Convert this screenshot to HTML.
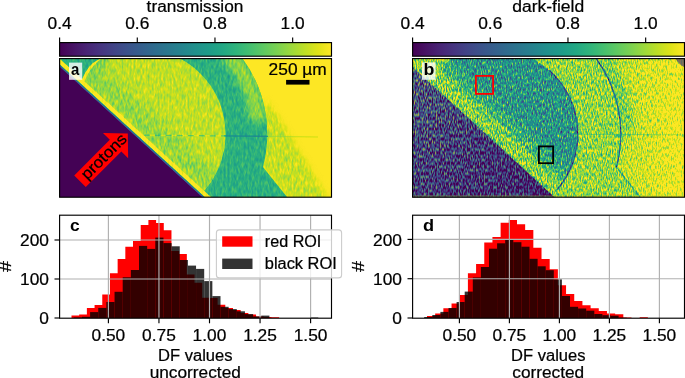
<!DOCTYPE html><html><head><meta charset="utf-8"><style>html,body{margin:0;padding:0;background:#fff;width:685px;height:378px;overflow:hidden}svg{display:block;will-change:transform}text{font-family:"Liberation Sans",sans-serif}</style></head><body>
<svg width="685" height="378" viewBox="0 0 685 378">
<defs>
<linearGradient id="vir" x1="0" x2="1" y1="0" y2="0"><stop offset="0.000" stop-color="#440154"/><stop offset="0.050" stop-color="#471365"/><stop offset="0.100" stop-color="#482475"/><stop offset="0.150" stop-color="#463480"/><stop offset="0.200" stop-color="#414487"/><stop offset="0.250" stop-color="#3b528b"/><stop offset="0.300" stop-color="#355f8d"/><stop offset="0.350" stop-color="#2f6c8e"/><stop offset="0.400" stop-color="#2a788e"/><stop offset="0.450" stop-color="#25848e"/><stop offset="0.500" stop-color="#21918c"/><stop offset="0.550" stop-color="#1e9c89"/><stop offset="0.600" stop-color="#22a884"/><stop offset="0.650" stop-color="#2fb47c"/><stop offset="0.700" stop-color="#44bf70"/><stop offset="0.750" stop-color="#5ec962"/><stop offset="0.800" stop-color="#7ad151"/><stop offset="0.850" stop-color="#9bd93c"/><stop offset="0.900" stop-color="#bddf26"/><stop offset="0.950" stop-color="#dfe318"/><stop offset="1.000" stop-color="#fde725"/></linearGradient>
<clipPath id="clipim0"><rect x="59.6" y="58.6" width="271.9" height="138.6"/></clipPath>
<clipPath id="cliph0"><rect x="59.6" y="215.2" width="271.9" height="103.0"/></clipPath>
<clipPath id="clipim1"><rect x="412.6" y="58.6" width="271.9" height="138.6"/></clipPath>
<clipPath id="cliph1"><rect x="412.6" y="215.2" width="271.9" height="103.0"/></clipPath>
<filter id="b0_6" x="-50%" y="-50%" width="200%" height="200%" color-interpolation-filters="sRGB"><feGaussianBlur stdDeviation="0.6"/></filter>
<filter id="b1" x="-50%" y="-50%" width="200%" height="200%" color-interpolation-filters="sRGB"><feGaussianBlur stdDeviation="1"/></filter>
<filter id="b1_5" x="-50%" y="-50%" width="200%" height="200%" color-interpolation-filters="sRGB"><feGaussianBlur stdDeviation="1.5"/></filter>
<filter id="b2" x="-50%" y="-50%" width="200%" height="200%" color-interpolation-filters="sRGB"><feGaussianBlur stdDeviation="2"/></filter>
<filter id="b3" x="-50%" y="-50%" width="200%" height="200%" color-interpolation-filters="sRGB"><feGaussianBlur stdDeviation="3"/></filter>
<filter id="b4" x="-50%" y="-50%" width="200%" height="200%" color-interpolation-filters="sRGB"><feGaussianBlur stdDeviation="4"/></filter>
<filter id="b6" x="-50%" y="-50%" width="200%" height="200%" color-interpolation-filters="sRGB"><feGaussianBlur stdDeviation="6"/></filter>
<filter id="b8" x="-50%" y="-50%" width="200%" height="200%" color-interpolation-filters="sRGB"><feGaussianBlur stdDeviation="8"/></filter>
<filter id="va" x="59.6" y="58.6" width="271.9" height="138.6" filterUnits="userSpaceOnUse" color-interpolation-filters="sRGB"><feTurbulence type="fractalNoise" baseFrequency="0.5 0.16" numOctaves="2" seed="5" result="n0"/><feColorMatrix in="n0" type="matrix" values="1 0 0 0 0  1 0 0 0 0  1 0 0 0 0  0 0 0 0 1" result="n"/><feColorMatrix in="SourceGraphic" type="matrix" values="0 1 0 0 0  0 1 0 0 0  0 1 0 0 0  0 0 0 0 1" result="amp"/><feColorMatrix in="SourceGraphic" type="matrix" values="1 0 0 0 0  1 0 0 0 0  1 0 0 0 0  0 0 0 0 1" result="val"/><feComposite in="amp" in2="n" operator="arithmetic" k1="1" k2="0" k3="0" k4="0" result="an"/><feComposite in="an" in2="amp" operator="arithmetic" k1="0" k2="0.75" k3="-0.375" k4="0.5" result="q"/><feComposite in="val" in2="q" operator="arithmetic" k1="0" k2="1" k3="1" k4="-0.5" result="v"/><feComponentTransfer in="v"><feFuncR type="table" tableValues="0.2670 0.2770 0.2823 0.2829 0.2788 0.2706 0.2590 0.2450 0.2297 0.2143 0.1994 0.1856 0.1727 0.1607 0.1490 0.1378 0.1276 0.1206 0.1206 0.1323 0.1579 0.1966 0.2461 0.3041 0.3692 0.4401 0.5160 0.5958 0.6785 0.7624 0.8456 0.9261 0.9932"/><feFuncG type="table" tableValues="0.0049 0.0503 0.0950 0.1359 0.1755 0.2141 0.2515 0.2877 0.3224 0.3556 0.3876 0.4186 0.4488 0.4785 0.5081 0.5375 0.5669 0.5964 0.6258 0.6550 0.6838 0.7118 0.7389 0.7647 0.7889 0.8111 0.8312 0.8487 0.8637 0.8764 0.8873 0.8973 0.9062"/><feFuncB type="table" tableValues="0.3294 0.3757 0.4173 0.4534 0.4834 0.5071 0.5247 0.5373 0.5457 0.5512 0.5546 0.5568 0.5579 0.5581 0.5573 0.5549 0.5506 0.5436 0.5335 0.5197 0.5017 0.4792 0.4520 0.4199 0.3829 0.3410 0.2943 0.2433 0.1895 0.1371 0.0997 0.1041 0.1439"/><feFuncA type="linear" slope="0" intercept="1"/></feComponentTransfer><feComposite in2="SourceGraphic" operator="in"/></filter>
<filter id="vb" x="412.6" y="58.6" width="271.9" height="138.6" filterUnits="userSpaceOnUse" color-interpolation-filters="sRGB"><feTurbulence type="fractalNoise" baseFrequency="0.8 0.26" numOctaves="2" seed="7" result="n0"/><feColorMatrix in="n0" type="matrix" values="1 0 0 0 0  1 0 0 0 0  1 0 0 0 0  0 0 0 0 1" result="n"/><feColorMatrix in="SourceGraphic" type="matrix" values="0 1 0 0 0  0 1 0 0 0  0 1 0 0 0  0 0 0 0 1" result="amp"/><feColorMatrix in="SourceGraphic" type="matrix" values="1 0 0 0 0  1 0 0 0 0  1 0 0 0 0  0 0 0 0 1" result="val"/><feComposite in="amp" in2="n" operator="arithmetic" k1="1" k2="0" k3="0" k4="0" result="an"/><feComposite in="an" in2="amp" operator="arithmetic" k1="0" k2="3.3" k3="-1.65" k4="0.5" result="q"/><feComposite in="val" in2="q" operator="arithmetic" k1="0" k2="1" k3="1" k4="-0.5" result="v"/><feComponentTransfer in="v"><feFuncR type="table" tableValues="0.2670 0.2770 0.2823 0.2829 0.2788 0.2706 0.2590 0.2450 0.2297 0.2143 0.1994 0.1856 0.1727 0.1607 0.1490 0.1378 0.1276 0.1206 0.1206 0.1323 0.1579 0.1966 0.2461 0.3041 0.3692 0.4401 0.5160 0.5958 0.6785 0.7624 0.8456 0.9261 0.9932"/><feFuncG type="table" tableValues="0.0049 0.0503 0.0950 0.1359 0.1755 0.2141 0.2515 0.2877 0.3224 0.3556 0.3876 0.4186 0.4488 0.4785 0.5081 0.5375 0.5669 0.5964 0.6258 0.6550 0.6838 0.7118 0.7389 0.7647 0.7889 0.8111 0.8312 0.8487 0.8637 0.8764 0.8873 0.8973 0.9062"/><feFuncB type="table" tableValues="0.3294 0.3757 0.4173 0.4534 0.4834 0.5071 0.5247 0.5373 0.5457 0.5512 0.5546 0.5568 0.5579 0.5581 0.5573 0.5549 0.5506 0.5436 0.5335 0.5197 0.5017 0.4792 0.4520 0.4199 0.3829 0.3410 0.2943 0.2433 0.1895 0.1371 0.0997 0.1041 0.1439"/><feFuncA type="linear" slope="0" intercept="1"/></feComponentTransfer><feComposite in2="SourceGraphic" operator="in"/></filter>
<filter id="vs" x="412.6" y="58.6" width="271.9" height="138.6" filterUnits="userSpaceOnUse" color-interpolation-filters="sRGB"><feTurbulence type="fractalNoise" baseFrequency="0.77 0.29" numOctaves="1" seed="11" result="n0"/><feColorMatrix in="n0" type="matrix" values="1 0 0 0 0  1 0 0 0 0  1 0 0 0 0  0 0 0 0 1" result="n"/><feColorMatrix in="SourceGraphic" type="matrix" values="0 1 0 0 0  0 1 0 0 0  0 1 0 0 0  0 0 0 0 1" result="amp"/><feColorMatrix in="SourceGraphic" type="matrix" values="1 0 0 0 0  1 0 0 0 0  1 0 0 0 0  0 0 0 0 1" result="val"/><feComposite in="amp" in2="n" operator="arithmetic" k1="1" k2="0" k3="0" k4="0" result="an"/><feComposite in="an" in2="amp" operator="arithmetic" k1="0" k2="3.3" k3="-1.65" k4="0.5" result="q"/><feComposite in="val" in2="q" operator="arithmetic" k1="0" k2="1" k3="1" k4="-0.5" result="v"/><feComponentTransfer in="v"><feFuncR type="table" tableValues="0.267 0.275 0.263 0.243 0.239 0.290 0.431 0.620 0.784"/><feFuncG type="table" tableValues="0.004 0.090 0.180 0.290 0.392 0.494 0.557 0.627 0.753"/><feFuncB type="table" tableValues="0.329 0.416 0.478 0.525 0.533 0.510 0.400 0.290 0.235"/><feFuncA type="linear" slope="0" intercept="1"/></feComponentTransfer><feComposite in2="SourceGraphic" operator="in"/></filter>
</defs>
<text x="195.00" y="11.60" font-size="15.8" font-weight="normal" text-anchor="middle" fill="#000" stroke="#000" stroke-width="0.22" textLength="96.79" lengthAdjust="spacingAndGlyphs" >transmission</text>
<text x="548.20" y="11.60" font-size="15.8" font-weight="normal" text-anchor="middle" fill="#000" stroke="#000" stroke-width="0.22" textLength="72.06" lengthAdjust="spacingAndGlyphs" >dark-field</text>
<rect x="59.6" y="42.6" width="271.9" height="13.600000000000001" fill="url(#vir)" stroke="#000" stroke-width="1.15"/>
<line x1="59.60" x2="59.60" y1="37.50" y2="42.6" stroke="#000" stroke-width="1.15"/>
<text x="59.60" y="28.90" font-size="15.8" font-weight="normal" text-anchor="middle" fill="#000" stroke="#000" stroke-width="0.22" textLength="24.10" lengthAdjust="spacingAndGlyphs" >0.4</text>
<line x1="137.29" x2="137.29" y1="37.50" y2="42.6" stroke="#000" stroke-width="1.15"/>
<text x="137.29" y="28.90" font-size="15.8" font-weight="normal" text-anchor="middle" fill="#000" stroke="#000" stroke-width="0.22" textLength="24.10" lengthAdjust="spacingAndGlyphs" >0.6</text>
<line x1="214.97" x2="214.97" y1="37.50" y2="42.6" stroke="#000" stroke-width="1.15"/>
<text x="214.97" y="28.90" font-size="15.8" font-weight="normal" text-anchor="middle" fill="#000" stroke="#000" stroke-width="0.22" textLength="24.10" lengthAdjust="spacingAndGlyphs" >0.8</text>
<line x1="292.66" x2="292.66" y1="37.50" y2="42.6" stroke="#000" stroke-width="1.15"/>
<text x="292.66" y="28.90" font-size="15.8" font-weight="normal" text-anchor="middle" fill="#000" stroke="#000" stroke-width="0.22" textLength="24.10" lengthAdjust="spacingAndGlyphs" >1.0</text>
<rect x="412.6" y="42.6" width="271.9" height="13.600000000000001" fill="url(#vir)" stroke="#000" stroke-width="1.15"/>
<line x1="412.60" x2="412.60" y1="37.50" y2="42.6" stroke="#000" stroke-width="1.15"/>
<text x="412.60" y="28.90" font-size="15.8" font-weight="normal" text-anchor="middle" fill="#000" stroke="#000" stroke-width="0.22" textLength="24.10" lengthAdjust="spacingAndGlyphs" >0.4</text>
<line x1="490.29" x2="490.29" y1="37.50" y2="42.6" stroke="#000" stroke-width="1.15"/>
<text x="490.29" y="28.90" font-size="15.8" font-weight="normal" text-anchor="middle" fill="#000" stroke="#000" stroke-width="0.22" textLength="24.10" lengthAdjust="spacingAndGlyphs" >0.6</text>
<line x1="567.97" x2="567.97" y1="37.50" y2="42.6" stroke="#000" stroke-width="1.15"/>
<text x="567.97" y="28.90" font-size="15.8" font-weight="normal" text-anchor="middle" fill="#000" stroke="#000" stroke-width="0.22" textLength="24.10" lengthAdjust="spacingAndGlyphs" >0.8</text>
<line x1="645.66" x2="645.66" y1="37.50" y2="42.6" stroke="#000" stroke-width="1.15"/>
<text x="645.66" y="28.90" font-size="15.8" font-weight="normal" text-anchor="middle" fill="#000" stroke="#000" stroke-width="0.22" textLength="24.10" lengthAdjust="spacingAndGlyphs" >1.0</text>
<defs><clipPath id="cuta"><path d="M140.5,33.0 L98.5,58.6 Q88.0,65.0 81.5,80.5 L49.0,158.0 L49.0,400 L400,400 L400,-27.0 L140.5,-27.0 Z"/></clipPath><clipPath id="cutb"><path d="M493.5,33.0 L451.5,58.6 Q441.0,65.0 434.5,80.5 L402.0,158.0 L402.0,400 L753,400 L753,-27.0 L493.5,-27.0 Z"/></clipPath></defs>
<defs><clipPath id="discA"><circle cx="140.3" cy="134.0" r="85.3" clip-path="url(#cuta)"/></clipPath></defs>
<defs><clipPath id="outerA"><path d="M50,50 L241.30,50 L241.30,57 A127.0,127.0 0 0 1 262.94,167.0 L289.40,200 L50,200 Z"/></clipPath></defs>
<g clip-path="url(#clipim0)"><g filter="url(#va)">
<rect x="55" y="55" width="280" height="146" fill="rgb(255,0,0)"/>
<path d="M266,100 L281,122 L328,199 L288,199 L262,165 Z" fill="rgb(232,102,0)" filter="url(#b3)"/>
<path d="M50,50 L241.30,50 L241.30,57 A127.0,127.0 0 0 1 262.94,167.0 L289.40,200 L50,200 Z" fill="rgb(161,107,0)"/>
<g clip-path="url(#outerA)"><path d="M224.6,50 A119.0,119.0 0 0 1 258.7,122" fill="none" stroke="rgb(214,102,0)" stroke-width="16" filter="url(#b4)"/><path d="M173.4,50 A90.3,90.3 0 0 1 201.9,200" fill="none" stroke="rgb(164,102,0)" stroke-width="8" filter="url(#b3)"/></g>
<g clip-path="url(#cuta)"><circle cx="140.3" cy="134.0" r="85.3" fill="rgb(230,97,0)"/></g>
<g clip-path="url(#discA)"><path d="M60.80,45.72 L225.80,196.61" stroke="rgb(212,128,0)" stroke-width="22" filter="url(#b6)"/><path d="M106,50 L86,80" stroke="rgb(204,128,0)" stroke-width="16" filter="url(#b4)"/><path d="M99.5,57.5 Q89,64.5 82.3,80.8" fill="none" stroke="rgb(252,76,0)" stroke-width="4.5" filter="url(#b0_6)"/></g>
<path d="M145.6,60 L145.3,104" stroke="rgb(255,0,0)" stroke-width="1" opacity="0.35"/>
<path d="M133,135.1 L224,135.9" stroke="rgb(158,0,0)" stroke-width="1.3" stroke-dasharray="6 5" opacity="0.55"/>
<path d="M138.5,135.1 L224,135.9" stroke="rgb(255,0,0)" stroke-width="1.3" stroke-dasharray="5 6" opacity="0.6"/>
<path d="M224,135.9 L268,136.4" stroke="rgb(97,0,0)" stroke-width="1.3" opacity="0.6"/>
<path d="M268,136.4 L318,137.0" stroke="rgb(204,0,0)" stroke-width="1.1" opacity="0.45"/>
<path d="M52.29,55.02 L217.29,205.91" stroke="rgb(255,51,0)" stroke-width="4.6" filter="url(#b0_6)"/>
<path d="M50.47,57.01 L215.47,207.91" stroke="rgb(84,0,0)" stroke-width="1.4" filter="url(#b0_6)"/>
<path d="M50,57.53 L215,208.42 L215,205 L50,205 Z" fill="rgb(0,0,0)" filter="url(#b0_6)"/>
</g></g>
<rect x="59.6" y="58.6" width="271.9" height="138.6" fill="none" stroke="#000" stroke-width="1.15"/>
<rect x="69" y="62.6" width="13.2" height="17.2" fill="#fff" opacity="0.8"/>
<text x="75.25" y="75.00" font-size="16" font-weight="bold" text-anchor="middle" fill="#000" textLength="8.30" lengthAdjust="spacingAndGlyphs" >a</text>
<text x="297.70" y="74.60" font-size="15.8" font-weight="normal" text-anchor="middle" fill="#000" stroke="#000" stroke-width="0.22" textLength="58.13" lengthAdjust="spacingAndGlyphs" >250 µm</text>
<rect x="286.1" y="79.9" width="23.4" height="4.7" fill="#000"/>
<polygon points="74.24,175.44 109.80,139.87 102.98,133.05 127.80,133.40 128.15,158.22 121.33,151.40 85.76,186.96" fill="#ff0000"/>
<g transform="translate(104.25,156.95) rotate(-45)">
<text x="0.00" y="4.60" font-size="15.8" font-weight="normal" text-anchor="middle" fill="#000" stroke="#000" stroke-width="0.22" textLength="57.49" lengthAdjust="spacingAndGlyphs" >protons</text>
</g>
<defs><linearGradient id="bgb" x1="560" y1="0" x2="685" y2="0" gradientUnits="userSpaceOnUse"><stop offset="0" stop-color="rgb(219,66,0)"/><stop offset="0.55" stop-color="rgb(232,61,0)"/><stop offset="1" stop-color="rgb(255,51,0)"/></linearGradient><linearGradient id="spk" x1="425" y1="85" x2="535" y2="200" gradientUnits="userSpaceOnUse"><stop offset="0" stop-color="rgb(112,168,0)"/><stop offset="0.5" stop-color="rgb(74,168,0)"/><stop offset="1" stop-color="rgb(46,168,0)"/></linearGradient><clipPath id="discB"><circle cx="492.8" cy="134.0" r="85.0" clip-path="url(#cutb)"/></clipPath></defs>
<g clip-path="url(#clipim1)"><g filter="url(#vb)">
<rect x="405" y="55" width="285" height="146" fill="url(#bgb)"/>
<path d="M596.8,50 A133.3,133.3 0 0 1 626.6,135" fill="none" stroke="rgb(194,76,0)" stroke-width="12" filter="url(#b4)"/>
<path d="M403,50 L595.05,50 L595.05,57 A128.0,128.0 0 0 1 616.47,167.0 L642.40,200 L403,200 Z" fill="rgb(212,71,0)"/>
<g clip-path="url(#cutb)"><circle cx="492.8" cy="134.0" r="85.0" fill="rgb(133,92,0)"/></g>
<g clip-path="url(#discB)"><path d="M399.76,41.60 L579.76,206.84" stroke="rgb(204,92,0)" stroke-width="20" filter="url(#b3)"/><path d="M409.23,31.28 L589.23,196.52" stroke="rgb(168,92,0)" stroke-width="10" filter="url(#b4)"/></g>
<path d="M548.74,70 A85.0,85.0 0 0 1 556.75,190" fill="none" stroke="rgb(46,76,0)" stroke-width="1.2"/>
<path d="M594.29,56 A128.0,128.0 0 0 1 616.47,167.0" fill="none" stroke="rgb(51,76,0)" stroke-width="1.1"/>
<path d="M616.47,167.0 L642.40,200" fill="none" stroke="rgb(115,76,0)" stroke-width="1.2" opacity="0.7"/>
<path d="M470,133.5 L685,135" stroke="rgb(153,26,0)" stroke-width="1" opacity="0.5"/>
<path d="M395.37,46.38 L575.37,211.62" stroke="rgb(209,102,0)" stroke-width="6" filter="url(#b1_5)"/>
</g>
<g filter="url(#vs)">
<path d="M403,58.14 L568,209.61 L568,205 L403,205 Z" fill="url(#spk)"/>
</g>
<path d="M675,58 L686,58 L686,68 Q680,66 675,58 Z" fill="#4a3f70" opacity="0.7"/>
<path d="M412,196.2 L686,196.2" stroke="#a8d838" stroke-width="1.3" opacity="0.45"/>
</g>
<rect x="412.6" y="58.6" width="271.9" height="138.6" fill="none" stroke="#000" stroke-width="1.15"/>
<rect x="422" y="62.4" width="13.6" height="17.4" fill="#fff" opacity="0.8"/>
<text x="428.95" y="75.40" font-size="16" font-weight="bold" text-anchor="middle" fill="#000" textLength="10.90" lengthAdjust="spacingAndGlyphs" >b</text>
<rect x="475.9" y="75.9" width="17.2" height="18" fill="none" stroke="#ff0000" stroke-width="1.8"/>
<rect x="538.9" y="146.4" width="14.2" height="16.8" fill="none" stroke="#000" stroke-width="1.8"/>
<g clip-path="url(#cliph0)">
<path d="M71.50,318.2V315.60H79.19V318.2ZM79.19,318.2V314.40H86.88V318.2ZM86.88,318.2V307.90H94.57V318.2ZM94.57,318.2V304.90H102.26V318.2ZM102.26,318.2V294.50H109.95V318.2ZM109.95,318.2V273.30H117.64V318.2ZM117.64,318.2V259.10H125.33V318.2ZM125.33,318.2V246.70H133.02V318.2ZM133.02,318.2V241.10H140.71V318.2ZM140.71,318.2V225.00H148.40V318.2ZM148.40,318.2V220.00H156.09V318.2ZM156.09,318.2V223.00H163.78V318.2ZM163.78,318.2V230.20H171.47V318.2ZM171.47,318.2V251.00H179.16V318.2ZM179.16,318.2V254.10H186.85V318.2ZM186.85,318.2V274.40H194.54V318.2ZM194.54,318.2V282.80H202.23V318.2ZM202.23,318.2V297.80H209.92V318.2ZM209.92,318.2V298.10H217.61V318.2ZM217.61,318.2V304.70H225.30V318.2ZM225.30,318.2V308.00H232.99V318.2ZM232.99,318.2V310.00H240.68V318.2ZM240.68,318.2V313.00H248.37V318.2ZM248.37,318.2V314.40H256.06V318.2ZM256.06,318.2V316.50H263.75V318.2ZM263.75,318.2V317.00H271.44V318.2ZM271.44,318.2V317.30H279.13V318.2Z" fill="#ff0000" fill-opacity="1"/>
<rect x="73.80" y="317.50" width="8.15" height="0.70" fill="#000000" fill-opacity="0.8"/>
<rect x="81.95" y="316.80" width="8.15" height="1.40" fill="#000000" fill-opacity="0.8"/>
<rect x="90.10" y="312.10" width="8.15" height="6.10" fill="#000000" fill-opacity="0.8"/>
<rect x="98.25" y="307.90" width="8.15" height="10.30" fill="#000000" fill-opacity="0.8"/>
<rect x="106.40" y="302.00" width="8.15" height="16.20" fill="#000000" fill-opacity="0.8"/>
<rect x="114.55" y="291.80" width="8.15" height="26.40" fill="#000000" fill-opacity="0.8"/>
<rect x="122.70" y="277.30" width="8.15" height="40.90" fill="#000000" fill-opacity="0.8"/>
<rect x="130.85" y="270.00" width="8.15" height="48.20" fill="#000000" fill-opacity="0.8"/>
<rect x="139.00" y="245.90" width="8.15" height="72.30" fill="#000000" fill-opacity="0.8"/>
<rect x="147.15" y="248.90" width="8.15" height="69.30" fill="#000000" fill-opacity="0.8"/>
<rect x="155.30" y="237.60" width="8.15" height="80.60" fill="#000000" fill-opacity="0.8"/>
<rect x="163.45" y="243.10" width="8.15" height="75.10" fill="#000000" fill-opacity="0.8"/>
<rect x="171.60" y="246.30" width="8.15" height="71.90" fill="#000000" fill-opacity="0.8"/>
<rect x="179.75" y="260.00" width="8.15" height="58.20" fill="#000000" fill-opacity="0.8"/>
<rect x="187.90" y="265.60" width="8.15" height="52.60" fill="#000000" fill-opacity="0.8"/>
<rect x="196.05" y="268.90" width="8.15" height="49.30" fill="#000000" fill-opacity="0.8"/>
<rect x="204.20" y="281.10" width="8.15" height="37.10" fill="#000000" fill-opacity="0.8"/>
<rect x="212.35" y="296.10" width="8.15" height="22.10" fill="#000000" fill-opacity="0.8"/>
<rect x="220.50" y="306.80" width="8.15" height="11.40" fill="#000000" fill-opacity="0.8"/>
<rect x="228.65" y="309.10" width="8.15" height="9.10" fill="#000000" fill-opacity="0.8"/>
<rect x="236.80" y="311.30" width="8.15" height="6.90" fill="#000000" fill-opacity="0.8"/>
<rect x="244.95" y="314.10" width="8.15" height="4.10" fill="#000000" fill-opacity="0.8"/>
<rect x="253.10" y="316.40" width="8.15" height="1.80" fill="#000000" fill-opacity="0.8"/>
<rect x="261.25" y="315.60" width="8.15" height="2.60" fill="#000000" fill-opacity="0.8"/>
<rect x="310.15" y="317.50" width="8.15" height="0.70" fill="#000000" fill-opacity="0.8"/>
<line x1="108.40" x2="108.40" y1="215.2" y2="318.2" stroke="#b0b0b0" stroke-width="1.15"/>
<line x1="158.95" x2="158.95" y1="215.2" y2="318.2" stroke="#b0b0b0" stroke-width="1.15"/>
<line x1="209.50" x2="209.50" y1="215.2" y2="318.2" stroke="#b0b0b0" stroke-width="1.15"/>
<line x1="260.05" x2="260.05" y1="215.2" y2="318.2" stroke="#b0b0b0" stroke-width="1.15"/>
<line x1="310.60" x2="310.60" y1="215.2" y2="318.2" stroke="#b0b0b0" stroke-width="1.15"/>
<line x1="59.6" x2="331.5" y1="279.00" y2="279.00" stroke="#b0b0b0" stroke-width="1.15"/>
<line x1="59.6" x2="331.5" y1="240.00" y2="240.00" stroke="#b0b0b0" stroke-width="1.15"/>
</g>
<rect x="59.6" y="215.2" width="271.9" height="103.0" fill="none" stroke="#000" stroke-width="1.15"/>
<line x1="108.40" x2="108.40" y1="318.2" y2="323.3" stroke="#000" stroke-width="1.15"/>
<text x="108.40" y="340.50" font-size="15.8" font-weight="normal" text-anchor="middle" fill="#000" stroke="#000" stroke-width="0.22" textLength="33.73" lengthAdjust="spacingAndGlyphs" >0.50</text>
<line x1="158.95" x2="158.95" y1="318.2" y2="323.3" stroke="#000" stroke-width="1.15"/>
<text x="158.95" y="340.50" font-size="15.8" font-weight="normal" text-anchor="middle" fill="#000" stroke="#000" stroke-width="0.22" textLength="33.73" lengthAdjust="spacingAndGlyphs" >0.75</text>
<line x1="209.50" x2="209.50" y1="318.2" y2="323.3" stroke="#000" stroke-width="1.15"/>
<text x="209.50" y="340.50" font-size="15.8" font-weight="normal" text-anchor="middle" fill="#000" stroke="#000" stroke-width="0.22" textLength="33.73" lengthAdjust="spacingAndGlyphs" >1.00</text>
<line x1="260.05" x2="260.05" y1="318.2" y2="323.3" stroke="#000" stroke-width="1.15"/>
<text x="260.05" y="340.50" font-size="15.8" font-weight="normal" text-anchor="middle" fill="#000" stroke="#000" stroke-width="0.22" textLength="33.73" lengthAdjust="spacingAndGlyphs" >1.25</text>
<line x1="310.60" x2="310.60" y1="318.2" y2="323.3" stroke="#000" stroke-width="1.15"/>
<text x="310.60" y="340.50" font-size="15.8" font-weight="normal" text-anchor="middle" fill="#000" stroke="#000" stroke-width="0.22" textLength="33.73" lengthAdjust="spacingAndGlyphs" >1.50</text>
<line x1="54.50" x2="59.6" y1="318.00" y2="318.00" stroke="#000" stroke-width="1.15"/>
<text x="49.00" y="324.30" font-size="15.8" font-weight="normal" text-anchor="end" fill="#000" stroke="#000" stroke-width="0.22" textLength="9.64" lengthAdjust="spacingAndGlyphs" >0</text>
<line x1="54.50" x2="59.6" y1="279.00" y2="279.00" stroke="#000" stroke-width="1.15"/>
<text x="49.00" y="285.30" font-size="15.8" font-weight="normal" text-anchor="end" fill="#000" stroke="#000" stroke-width="0.22" textLength="28.92" lengthAdjust="spacingAndGlyphs" >100</text>
<line x1="54.50" x2="59.6" y1="240.00" y2="240.00" stroke="#000" stroke-width="1.15"/>
<text x="49.00" y="246.30" font-size="15.8" font-weight="normal" text-anchor="end" fill="#000" stroke="#000" stroke-width="0.22" textLength="28.92" lengthAdjust="spacingAndGlyphs" >200</text>
<text x="195.25" y="360.80" font-size="15.8" font-weight="normal" text-anchor="middle" fill="#000" stroke="#000" stroke-width="0.22" textLength="74.48" lengthAdjust="spacingAndGlyphs" >DF values</text>
<text x="195.25" y="377.60" font-size="15.8" font-weight="normal" text-anchor="middle" fill="#000" stroke="#000" stroke-width="0.22" textLength="91.20" lengthAdjust="spacingAndGlyphs" >uncorrected</text>
<g transform="translate(10.90,266.6) rotate(-90)">
<text x="0.00" y="0.00" font-size="15.8" font-weight="normal" text-anchor="middle" fill="#000" stroke="#000" stroke-width="0.22" textLength="11.00" lengthAdjust="spacingAndGlyphs" >#</text>
</g>
<text x="74.80" y="230.60" font-size="16" font-weight="bold" text-anchor="middle" fill="#000" textLength="9.70" lengthAdjust="spacingAndGlyphs" >c</text>
<g clip-path="url(#cliph1)">
<path d="M427.00,318.2V315.90H435.18V318.2ZM435.18,318.2V313.60H443.36V318.2ZM443.36,318.2V308.30H451.54V318.2ZM451.54,318.2V303.40H459.72V318.2ZM459.72,318.2V294.90H467.90V318.2ZM467.90,318.2V273.20H476.08V318.2ZM476.08,318.2V264.10H484.26V318.2ZM484.26,318.2V242.50H492.44V318.2ZM492.44,318.2V237.00H500.62V318.2ZM500.62,318.2V222.80H508.80V318.2ZM508.80,318.2V220.00H516.98V318.2ZM516.98,318.2V224.20H525.16V318.2ZM525.16,318.2V230.00H533.34V318.2ZM533.34,318.2V247.80H541.52V318.2ZM541.52,318.2V258.90H549.70V318.2ZM549.70,318.2V269.30H557.88V318.2ZM557.88,318.2V285.20H566.06V318.2ZM566.06,318.2V294.00H574.24V318.2ZM574.24,318.2V301.00H582.42V318.2ZM582.42,318.2V305.20H590.60V318.2ZM590.60,318.2V308.20H598.78V318.2ZM598.78,318.2V311.00H606.96V318.2ZM606.96,318.2V313.50H615.14V318.2ZM615.14,318.2V314.30H623.32V318.2ZM623.32,318.2V317.50H631.50V318.2ZM631.50,318.2V318.00H639.68V318.2ZM639.68,318.2V317.30H647.86V318.2Z" fill="#ff0000" fill-opacity="1"/>
<rect x="424.20" y="317.00" width="8.10" height="1.20" fill="#000000" fill-opacity="0.8"/>
<rect x="432.30" y="315.00" width="8.10" height="3.20" fill="#000000" fill-opacity="0.8"/>
<rect x="440.40" y="311.90" width="8.10" height="6.30" fill="#000000" fill-opacity="0.8"/>
<rect x="448.50" y="308.00" width="8.10" height="10.20" fill="#000000" fill-opacity="0.8"/>
<rect x="456.60" y="302.00" width="8.10" height="16.20" fill="#000000" fill-opacity="0.8"/>
<rect x="464.70" y="291.60" width="8.10" height="26.60" fill="#000000" fill-opacity="0.8"/>
<rect x="472.80" y="277.50" width="8.10" height="40.70" fill="#000000" fill-opacity="0.8"/>
<rect x="480.90" y="267.00" width="8.10" height="51.20" fill="#000000" fill-opacity="0.8"/>
<rect x="489.00" y="248.70" width="8.10" height="69.50" fill="#000000" fill-opacity="0.8"/>
<rect x="497.10" y="243.30" width="8.10" height="74.90" fill="#000000" fill-opacity="0.8"/>
<rect x="505.20" y="240.00" width="8.10" height="78.20" fill="#000000" fill-opacity="0.8"/>
<rect x="513.30" y="242.20" width="8.10" height="76.00" fill="#000000" fill-opacity="0.8"/>
<rect x="521.40" y="246.70" width="8.10" height="71.50" fill="#000000" fill-opacity="0.8"/>
<rect x="529.50" y="258.80" width="8.10" height="59.40" fill="#000000" fill-opacity="0.8"/>
<rect x="537.60" y="266.30" width="8.10" height="51.90" fill="#000000" fill-opacity="0.8"/>
<rect x="545.70" y="270.20" width="8.10" height="48.00" fill="#000000" fill-opacity="0.8"/>
<rect x="553.80" y="279.30" width="8.10" height="38.90" fill="#000000" fill-opacity="0.8"/>
<rect x="561.90" y="296.00" width="8.10" height="22.20" fill="#000000" fill-opacity="0.8"/>
<rect x="570.00" y="306.80" width="8.10" height="11.40" fill="#000000" fill-opacity="0.8"/>
<rect x="578.10" y="308.50" width="8.10" height="9.70" fill="#000000" fill-opacity="0.8"/>
<rect x="586.20" y="310.70" width="8.10" height="7.50" fill="#000000" fill-opacity="0.8"/>
<rect x="594.30" y="314.00" width="8.10" height="4.20" fill="#000000" fill-opacity="0.8"/>
<rect x="602.40" y="315.20" width="8.10" height="3.00" fill="#000000" fill-opacity="0.8"/>
<rect x="610.50" y="315.70" width="8.10" height="2.50" fill="#000000" fill-opacity="0.8"/>
<rect x="618.60" y="317.70" width="8.10" height="0.50" fill="#000000" fill-opacity="0.8"/>
<line x1="459.40" x2="459.40" y1="215.2" y2="318.2" stroke="#b0b0b0" stroke-width="1.15"/>
<line x1="509.40" x2="509.40" y1="215.2" y2="318.2" stroke="#b0b0b0" stroke-width="1.15"/>
<line x1="559.40" x2="559.40" y1="215.2" y2="318.2" stroke="#b0b0b0" stroke-width="1.15"/>
<line x1="609.40" x2="609.40" y1="215.2" y2="318.2" stroke="#b0b0b0" stroke-width="1.15"/>
<line x1="659.40" x2="659.40" y1="215.2" y2="318.2" stroke="#b0b0b0" stroke-width="1.15"/>
<line x1="412.6" x2="684.5" y1="278.70" y2="278.70" stroke="#b0b0b0" stroke-width="1.15"/>
<line x1="412.6" x2="684.5" y1="239.40" y2="239.40" stroke="#b0b0b0" stroke-width="1.15"/>
</g>
<rect x="412.6" y="215.2" width="271.9" height="103.0" fill="none" stroke="#000" stroke-width="1.15"/>
<line x1="459.40" x2="459.40" y1="318.2" y2="323.3" stroke="#000" stroke-width="1.15"/>
<text x="459.40" y="340.50" font-size="15.8" font-weight="normal" text-anchor="middle" fill="#000" stroke="#000" stroke-width="0.22" textLength="33.73" lengthAdjust="spacingAndGlyphs" >0.50</text>
<line x1="509.40" x2="509.40" y1="318.2" y2="323.3" stroke="#000" stroke-width="1.15"/>
<text x="509.40" y="340.50" font-size="15.8" font-weight="normal" text-anchor="middle" fill="#000" stroke="#000" stroke-width="0.22" textLength="33.73" lengthAdjust="spacingAndGlyphs" >0.75</text>
<line x1="559.40" x2="559.40" y1="318.2" y2="323.3" stroke="#000" stroke-width="1.15"/>
<text x="559.40" y="340.50" font-size="15.8" font-weight="normal" text-anchor="middle" fill="#000" stroke="#000" stroke-width="0.22" textLength="33.73" lengthAdjust="spacingAndGlyphs" >1.00</text>
<line x1="609.40" x2="609.40" y1="318.2" y2="323.3" stroke="#000" stroke-width="1.15"/>
<text x="609.40" y="340.50" font-size="15.8" font-weight="normal" text-anchor="middle" fill="#000" stroke="#000" stroke-width="0.22" textLength="33.73" lengthAdjust="spacingAndGlyphs" >1.25</text>
<line x1="659.40" x2="659.40" y1="318.2" y2="323.3" stroke="#000" stroke-width="1.15"/>
<text x="659.40" y="340.50" font-size="15.8" font-weight="normal" text-anchor="middle" fill="#000" stroke="#000" stroke-width="0.22" textLength="33.73" lengthAdjust="spacingAndGlyphs" >1.50</text>
<line x1="407.50" x2="412.6" y1="318.00" y2="318.00" stroke="#000" stroke-width="1.15"/>
<text x="402.00" y="324.30" font-size="15.8" font-weight="normal" text-anchor="end" fill="#000" stroke="#000" stroke-width="0.22" textLength="9.64" lengthAdjust="spacingAndGlyphs" >0</text>
<line x1="407.50" x2="412.6" y1="278.70" y2="278.70" stroke="#000" stroke-width="1.15"/>
<text x="402.00" y="285.00" font-size="15.8" font-weight="normal" text-anchor="end" fill="#000" stroke="#000" stroke-width="0.22" textLength="28.92" lengthAdjust="spacingAndGlyphs" >100</text>
<line x1="407.50" x2="412.6" y1="239.40" y2="239.40" stroke="#000" stroke-width="1.15"/>
<text x="402.00" y="245.70" font-size="15.8" font-weight="normal" text-anchor="end" fill="#000" stroke="#000" stroke-width="0.22" textLength="28.92" lengthAdjust="spacingAndGlyphs" >200</text>
<text x="548.25" y="360.80" font-size="15.8" font-weight="normal" text-anchor="middle" fill="#000" stroke="#000" stroke-width="0.22" textLength="74.48" lengthAdjust="spacingAndGlyphs" >DF values</text>
<text x="548.25" y="377.60" font-size="15.8" font-weight="normal" text-anchor="middle" fill="#000" stroke="#000" stroke-width="0.22" textLength="71.99" lengthAdjust="spacingAndGlyphs" >corrected</text>
<g transform="translate(363.50,266.6) rotate(-90)">
<text x="0.00" y="0.00" font-size="15.8" font-weight="normal" text-anchor="middle" fill="#000" stroke="#000" stroke-width="0.22" textLength="11.00" lengthAdjust="spacingAndGlyphs" >#</text>
</g>
<text x="428.45" y="230.60" font-size="16" font-weight="bold" text-anchor="middle" fill="#000" textLength="11.10" lengthAdjust="spacingAndGlyphs" >d</text>
<rect x="216.4" y="229.9" width="125.2" height="48" rx="3" ry="3" fill="#fff" fill-opacity="0.8" stroke="#cccccc" stroke-width="1.1"/>
<rect x="222.2" y="236.3" width="30.3" height="10.4" fill="#ff0000"/>
<rect x="222.2" y="258.6" width="30.3" height="10.4" fill="#000" fill-opacity="0.8"/>
<text x="264.80" y="246.90" font-size="15.8" font-weight="normal" text-anchor="start" fill="#000" stroke="#000" stroke-width="0.22" textLength="56.57" lengthAdjust="spacingAndGlyphs" >red ROI</text>
<text x="264.80" y="268.70" font-size="15.8" font-weight="normal" text-anchor="start" fill="#000" stroke="#000" stroke-width="0.22" textLength="71.95" lengthAdjust="spacingAndGlyphs" >black ROI</text>
</svg></body></html>
